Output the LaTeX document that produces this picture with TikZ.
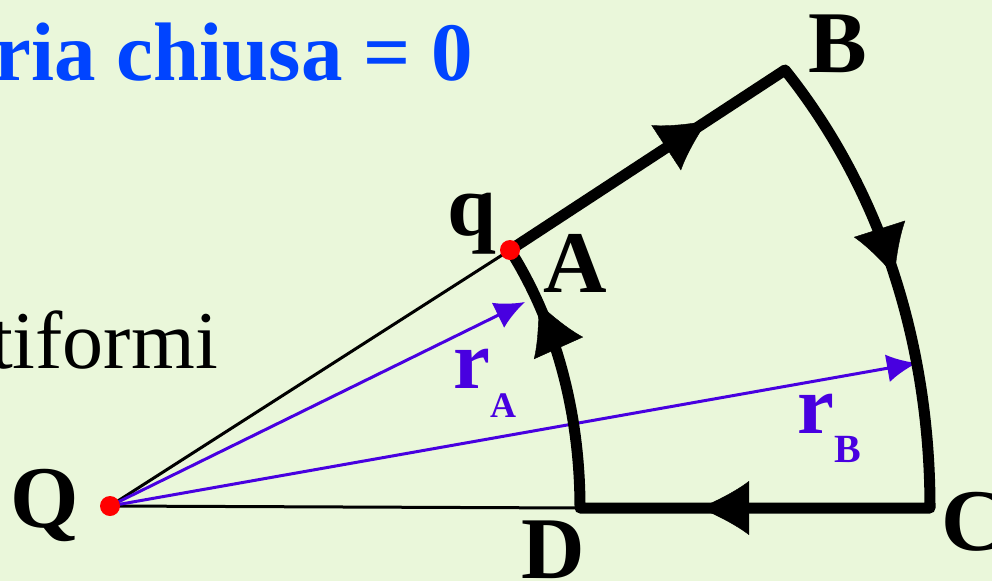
\documentclass[tikz,border=0pt]{standalone}
\usepackage{fontspec}
\setmainfont{Liberation Serif}
\usetikzlibrary{arrows.meta,decorations.markings}
\definecolor{bgc}{RGB}{234,247,218}
\definecolor{titleblue}{RGB}{0,68,255}
\definecolor{vblue}{RGB}{72,0,224}
\begin{document}
\begin{tikzpicture}[x=1pt,y=-1pt,
  circuit/.style={line width=11pt,line join=round,black},
  thinline/.style={line width=3pt,black},
  rvec/.style={line width=3pt,vblue,-{Latex[length=30pt,width=28pt]}},
  lbl/.style={inner sep=0pt,font=\fontsize{88}{100}\selectfont\bfseries},
  ttl/.style={inner sep=0pt,font=\fontsize{83}{100}\selectfont\bfseries},
  lblr/.style={inner sep=0pt,font=\fontsize{82}{100}\selectfont},
  rlbl/.style={inner sep=0pt,text=vblue,font=\fontsize{83}{100}\selectfont\bfseries},
  dot/.style={circle,fill=red,minimum size=20pt,inner sep=0pt},
  bigtip/.style={decoration={markings,mark=at position #1 with {\arrow{Latex[length=50pt,width=54pt]}}},postaction={decorate}}
]
\fill[bgc] (0,0) rectangle (992,581);
\useasboundingbox (0,0) rectangle (992,581);

\coordinate (Q) at (110,506);
\coordinate (A) at (510,250);
\coordinate (B) at (785,70);
\coordinate (C) at (930,508);
\coordinate (D) at (580,508);
\coordinate (TA) at (525,302);
\coordinate (TB) at (917,363);

\draw[thinline] (Q) -- (A);
\draw[thinline] (Q) -- (D);
\draw[rvec] (Q) -- (TA);
\draw[rvec] (Q) -- (TB);

\draw[circuit] (A) -- (B) .. controls (885,195) and (930,351) .. (C) -- (D) .. controls (580,417) and (558,326) .. (A);

\path[bigtip=0.72] (A) -- (B);
\path[bigtip=0.50] (B) .. controls (885,195) and (930,351) .. (C);
\path[bigtip=0.66] (C) -- (D);
\path[bigtip=0.78] (D) .. controls (580,417) and (558,326) .. (A);

\node[dot] (qdot) at (A) {};
\node[dot] (Qdot) at (Q) {};

\node[ttl, anchor=base east, text=titleblue] (title) at (473,80) {ria chiusa = 0};
\node[lblr, anchor=base east] (tif) at (218,368) {tiformi};
\node[lbl, anchor=base] (lq) at (472,235) {q};
\node[lbl, anchor=base] (lA) at (575,292) {A};
\node[lbl, anchor=base] (lB) at (838,72) {B};
\node[lbl, anchor=base west] (lC) at (941,550) {C};
\node[lbl, anchor=base] (lD) at (553,578) {D};
\node[lbl, anchor=base] (lQ) at (45,527) {Q};
\node[rlbl, anchor=base west] (rA) at (453,388) {r\raisebox{-29pt}{\fontsize{36}{40}\selectfont A}};
\node[rlbl, anchor=base west] (rB) at (797,433) {r\raisebox{-29pt}{\fontsize{40}{44}\selectfont B}};
\end{tikzpicture}
\end{document}
